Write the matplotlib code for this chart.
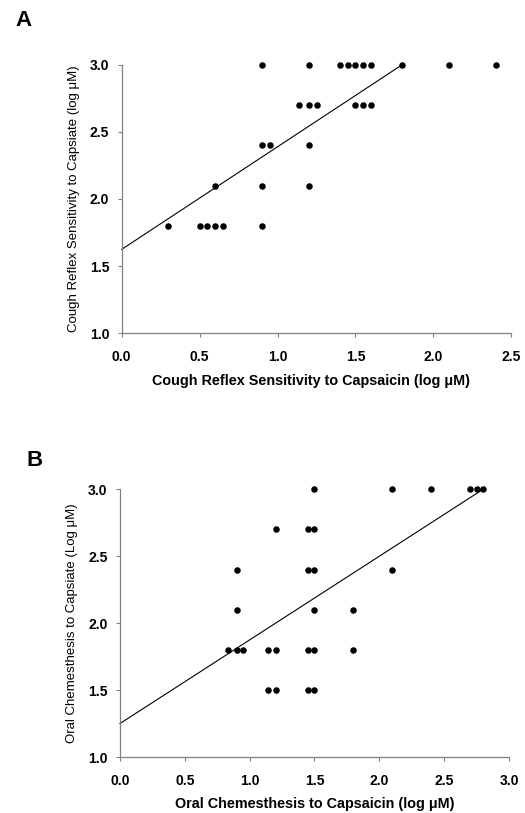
import matplotlib
matplotlib.use("Agg")
import matplotlib.pyplot as plt
import numpy as np

plt.rcParams['font.family'] = ['Liberation Sans', 'DejaVu Sans']

# Panel A data
a_x = [0.9, 1.2, 1.4, 1.45, 1.5, 1.55, 1.6, 1.8, 2.1, 2.4,
       1.14, 1.2, 1.25, 1.5, 1.55, 1.6,
       0.9, 0.95, 1.2,
       0.6, 0.9, 1.2,
       0.3, 0.5, 0.55, 0.6, 0.65, 0.9]
a_y = [3.0]*10 + [2.7]*6 + [2.4]*3 + [2.1]*3 + [1.8]*6
a_fit_x = [0.0, 1.8]
a_fit_y = [1.625, 3.0]

# Panel B data
b_x = [1.5, 2.1, 2.4, 2.7, 2.75, 2.8,
       1.2, 1.45, 1.5,
       0.9, 1.45, 1.5, 2.1,
       0.9, 1.5, 1.8,
       0.83, 0.9, 0.95, 1.14, 1.2, 1.45, 1.5, 1.8,
       1.14, 1.2, 1.45, 1.5]
b_y = [3.0]*6 + [2.7]*3 + [2.4]*4 + [2.1]*3 + [1.8]*8 + [1.5]*4
b_fit_x = [0.0, 2.8]
b_fit_y = [1.25, 3.0]

y_ticks = [1.0, 1.5, 2.0, 2.5, 3.0]
a_x_ticks = [0.0, 0.5, 1.0, 1.5, 2.0, 2.5]
b_x_ticks = [0.0, 0.5, 1.0, 1.5, 2.0, 2.5, 3.0]

fig = plt.figure(figsize=(5.25, 8.13), dpi=100)
W, H = 525, 813

def make_ax(l, r, t, b):
    return fig.add_axes([l / W, 1 - b / H, (r - l) / W, (b - t) / H])

axA = make_ax(121.7, 511.3, 64.7, 333.3)
axB = make_ax(120, 509, 489.3, 757)

def style(ax, xt, xlabel, ylabel, xlabel_pos):
    for s in ['top', 'right']:
        ax.spines[s].set_visible(False)
    for s in ['left', 'bottom']:
        ax.spines[s].set_color('#808080')
        ax.spines[s].set_linewidth(0.9)
    ax.set_xticks(xt)
    ax.set_yticks(y_ticks)
    ax.set_xlim(xt[0], xt[-1])
    ax.set_ylim(1.0, 3.0)
    ax.set_xticklabels([f"{v:.1f}" for v in xt], fontweight='bold', fontsize=10)
    ax.set_yticklabels([f"{v:.1f}" for v in y_ticks], fontweight='bold', fontsize=10)
    ax.tick_params(axis='y', direction='out', length=3, width=0.8, color='#808080', pad=6)
    ax.tick_params(axis='x', direction='out', length=3, width=0.8, color='#808080', pad=9)
    ax.set_xlabel(xlabel, fontweight='bold', fontsize=10.4, labelpad=7)
    ax.xaxis.label.set_x(xlabel_pos)
    ax.set_ylabel(ylabel, fontsize=9.5, labelpad=7)

axA.plot(a_fit_x, a_fit_y, color='black', lw=0.8, clip_on=False)
axA.scatter(a_x, a_y, s=22, color='black', zorder=3, clip_on=False, linewidths=0)
style(axA, a_x_ticks, 'Cough Reflex Sensitivity to Capsaicin (log \u03bcM)',
      'Cough Reflex Sensitivity to Capsiate (log \u03bcM)', 0.485)

axB.plot(b_fit_x, b_fit_y, color='black', lw=0.8, clip_on=False)
axB.scatter(b_x, b_y, s=22, color='black', zorder=3, clip_on=False, linewidths=0)
style(axB, b_x_ticks, 'Oral Chemesthesis to Capsaicin (log \u03bcM)',
      'Oral Chemesthesis to Capsiate (Log \u03bcM)', 0.5)

fig.text(24 / W, 1 - 20 / H, 'A', fontsize=16, fontweight='bold', va='center', ha='center')
fig.text(35 / W, 1 - 460 / H, 'B', fontsize=16, fontweight='bold', va='center', ha='center')

fig.savefig('out.png', dpi=100)
